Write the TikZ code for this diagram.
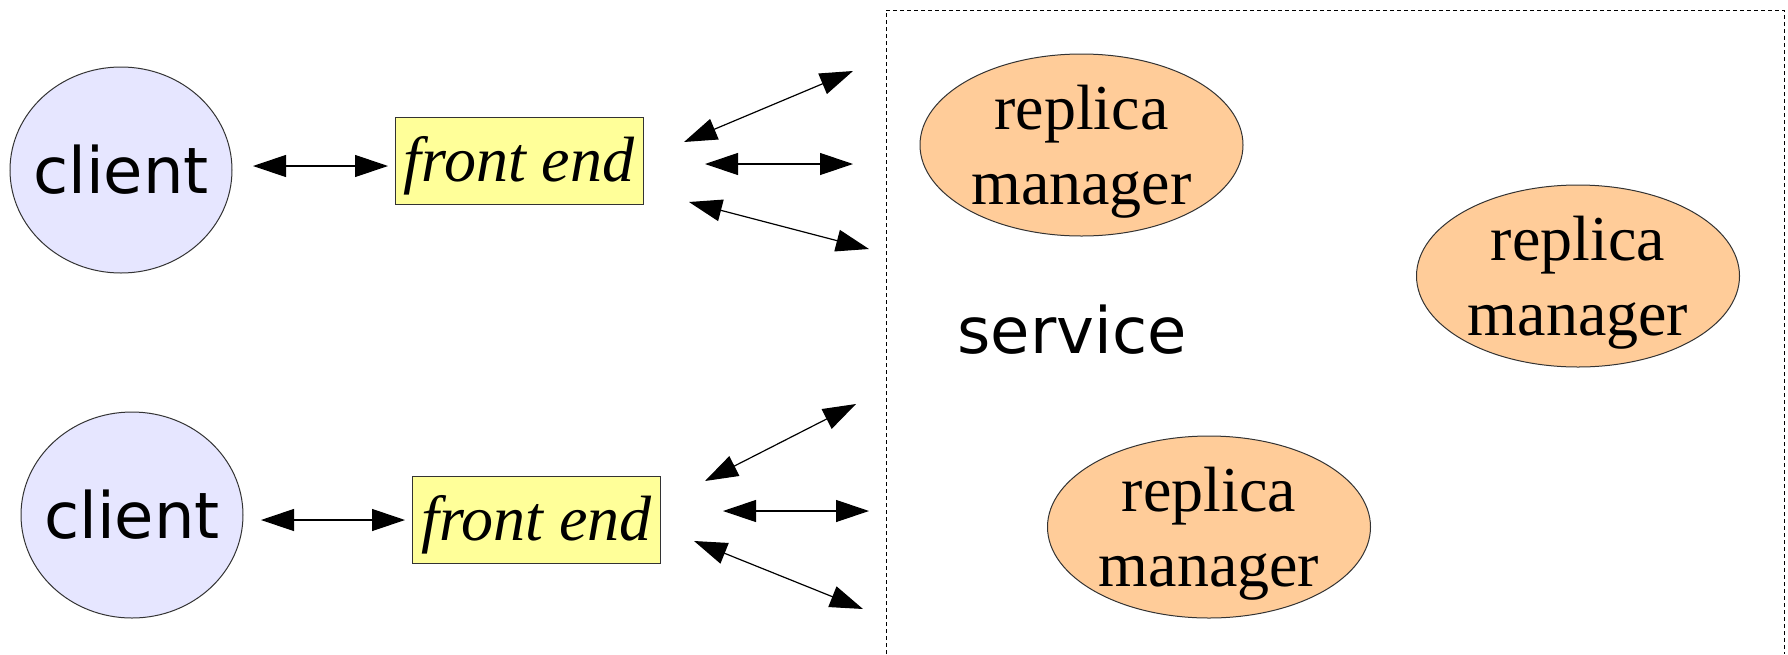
\documentclass[tikz,border=0pt]{standalone}
\usepackage{fontspec}
\setmainfont{Liberation Serif}
\setsansfont{DejaVu Sans}
\usetikzlibrary{arrows.meta,shapes.geometric,positioning}
\definecolor{clientblue}{HTML}{E6E6FF}
\definecolor{replicaorange}{HTML}{FFCC99}
\definecolor{frontyellow}{HTML}{FFFF99}

\begin{document}
\begin{tikzpicture}[x=0.5pt,y=-0.5pt,>={Triangle[length=16.5pt,width=11pt]},
	client/.style={ellipse,draw=black!80,line width=0.5pt,fill=clientblue,
		inner xsep=-6pt,inner ysep=0pt,minimum width=111pt,minimum height=103pt,
		font=\sffamily\fontsize{32}{38}\selectfont},
	frontend/.style={rectangle,draw=black!80,line width=0.5pt,fill=frontyellow,
		inner sep=0pt,minimum width=124pt,minimum height=43.5pt,
		text height=21pt,text depth=0pt,font=\itshape\fontsize{32}{38}\selectfont},
	replica/.style={ellipse,draw=black!80,line width=0.5pt,fill=replicaorange,
		inner sep=0pt,minimum width=161.5pt,minimum height=91pt,align=center,
		text depth=0pt,font=\fontsize{32}{37.5}\selectfont},
	link/.style={<->,line width=0.6pt}]
    \useasboundingbox (0,0) rectangle (1788,654);
    % the service area
    \draw[dash pattern=on 2pt off 1.5pt,line width=0.5pt] (886,654) -- (886,10) -- (1784,10) -- (1784,654);
    \node[font=\sffamily\fontsize{32}{38}\selectfont,anchor=base] (service) at (1072,353) {service};
    % create the nodes
    \node[client] (client1) at (121,170) {client};
    \node[client] (client2) at (132,515) {client};
    \node[frontend] (fe1) at (519,160.5) {front end};
    \node[frontend] (fe2) at (536.5,519.5) {front end};
    \node[replica] (rm1) at (1081.5,145) {replica\\manager};
    \node[replica] (rm2) at (1578,276) {replica\\manager};
    \node[replica] (rm3) at (1209,527) {replica\\manager};
    % arrow ends
    \coordinate (c1a) at (253,166);
    \coordinate (c1b) at (388,166);
    \coordinate (c2a) at (261,520);
    \coordinate (c2b) at (405,520);
    \coordinate (f1ua) at (684,142);
    \coordinate (f1ub) at (853,71);
    \coordinate (f1ma) at (705,164);
    \coordinate (f1mb) at (853,164);
    \coordinate (f1la) at (689,202);
    \coordinate (f1lb) at (869,249);
    \coordinate (f2ua) at (705,481);
    \coordinate (f2ub) at (856,404);
    \coordinate (f2ma) at (723,511);
    \coordinate (f2mb) at (869,511);
    \coordinate (f2la) at (694,541);
    \coordinate (f2lb) at (863,609);
    % connect the nodes
    \draw[link] (c1a) -- (c1b);
    \draw[link] (c2a) -- (c2b);
    \draw[link] (f1ua) -- (f1ub);
    \draw[link] (f1ma) -- (f1mb);
    \draw[link] (f1la) -- (f1lb);
    \draw[link] (f2ua) -- (f2ub);
    \draw[link] (f2ma) -- (f2mb);
    \draw[link] (f2la) -- (f2lb);
\end{tikzpicture}
\end{document}
